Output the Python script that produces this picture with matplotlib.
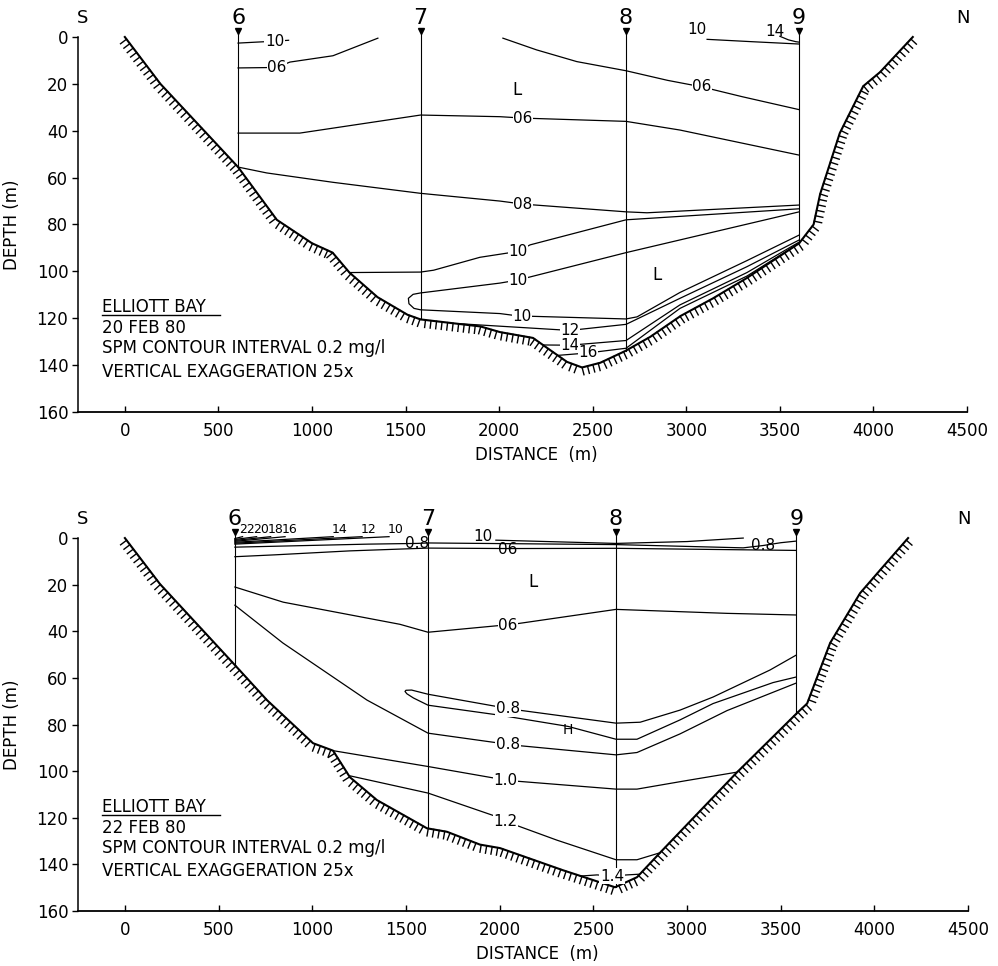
import numpy as np
import matplotlib
matplotlib.use("Agg")
import matplotlib.pyplot as plt
import matplotlib.patheffects as pe

plt.rcParams["font.family"] = ["DejaVu Sans"]

dist_ticks = [0, 500, 1000, 1500, 2000, 2500, 3000, 3500, 4000, 4500]
depth_ticks = [0, 20, 40, 60, 80, 100, 120, 140, 160]
station_names = ["6", "7", "8", "9"]

# ---------------- 20 FEB 80 ----------------
feb20_bed_x = [0, 190, 605, 812, 1000, 1110, 1200, 1350, 1510, 1580, 1900, 2004, 2181,
               2271, 2362, 2443, 2540, 2673, 2806, 2970, 3143, 3320, 3603, 3680, 3715,
               3820, 3945, 4035, 4210]
feb20_bed_z = [0, 20, 55.5, 78, 88, 92, 100.5, 111, 118.5, 120.5, 123.5, 125.9, 128.4,
               133.5, 138.6, 141, 139, 134, 128, 119, 111.5, 103, 88, 80, 67,
               41, 21, 15, 0]
feb20_stations = [605, 1580, 2678, 3603]

feb20_c10_s6_x = [605, 700, 800, 875]
feb20_c10_s6_z = [2.6, 2.2, 1.8, 1.4]
feb20_c06_s6_x = [605, 812, 882, 1112, 1352]
feb20_c06_s6_z = [13.2, 13.0, 10.7, 8.0, 0.5]
feb20_c06_n_x = [2020, 2200, 2415, 2678, 2900, 3084, 3300, 3603]
feb20_c06_n_z = [0.5, 5.5, 10.5, 14.4, 18.5, 21.3, 25.5, 31]
feb20_c06_mid_x = [605, 935, 1580, 2004, 2127, 2678, 2966, 3603]
feb20_c06_mid_z = [41, 41, 33.3, 34, 34.6, 36, 39.7, 50.4]
feb20_c08_x = [605, 758, 1112, 1580, 2004, 2127, 2678, 2790, 3603]
feb20_c08_z = [55.5, 58, 62, 66.7, 70, 71.3, 74.6, 75, 71.7]
feb20_c10_up_x = [1200, 1580, 1650, 1897, 2100, 2165, 2678, 3603]
feb20_c10_up_z = [100.5, 100.3, 99.5, 94, 91.5, 88.7, 78, 73.3]
feb20_c10_lens_x = [3603, 2678, 2100, 2004, 1580, 1540, 1515, 1518, 1545, 1580, 2004,
                    2100, 2678, 2737, 2966, 3324, 3603]
feb20_c10_lens_z = [74.6, 92, 103.7, 105, 109.2, 109.8, 111.5, 113.8, 115.8, 116.4, 118,
                    119, 120.3, 119.4, 109, 95.4, 84.5]
feb20_c12_x = [1780, 2378, 2678, 2966, 3324, 3603]
feb20_c12_z = [122.3, 125.2, 122.6, 111.5, 98, 86.6]
feb20_c14_x = [2234, 2378, 2678, 2966, 3324, 3603]
feb20_c14_z = [131.4, 131.5, 129.5, 114.3, 100.5, 87.5]
feb20_c16_x = [2320, 2475, 2678, 2966, 3324, 3603]
feb20_c16_z = [135.8, 134.8, 132.8, 115.8, 102, 88]
feb20_c10_n9_x = [3111, 3350, 3603]
feb20_c10_n9_z = [1.0, 2.0, 3.0]
feb20_c14_n9_x = [3500, 3545, 3585, 3603]
feb20_c14_n9_z = [-0.3, 1.2, 2.0, 2.2]

feb20_label_text = ["10", "06", "06", "06", "08", "10", "10", "10", "12", "14", "16", "10", "14"]
feb20_label_x = [800, 812, 3084, 2127, 2127, 2100, 2100, 2121, 2378, 2378, 2475, 3057, 3474]
feb20_label_z = [1.8, 13.0, 21.3, 34.6, 71.3, 91.5, 103.7, 119.2, 125.2, 131.5, 134.8, -3.0, -2.2]
feb20_mark_text = ["L", "L"]
feb20_mark_x = [2095, 2843]
feb20_mark_z = [22.6, 101.5]

# ---------------- 22 FEB 80 ----------------
feb22_bed_x = [0, 187, 577, 758, 1004, 1111, 1201, 1345, 1612, 1719, 1895, 2002, 2338,
               2616, 2733, 2856, 3268, 3588, 3641, 3764, 3924, 4031, 4180]
feb22_bed_z = [0, 19.7, 53.6, 69.5, 88, 91.2, 102.6, 112.4, 124.5, 126, 131.5, 133, 142.5,
               149.8, 145.5, 135, 100.4, 75, 71, 45, 23.6, 13.7, 0]
feb22_stations = [587, 1618, 2621, 3583]

feb22_s06_x = [587, 800, 1200, 1618, 2045, 2621, 3583]
feb22_s06_z = [8, 7.2, 5.5, 4.3, 4.5, 4.4, 5.3]
feb22_s08_x = [587, 1300, 1560, 1618, 2621, 3300, 3406, 3500, 3583]
feb22_s08_z = [3.9, 2.6, 2.3, 2.1, 2.8, 4.2, 3.2, 2.0, 1.3]
feb22_s10_x = [1980, 2300, 2621, 3000, 3300]
feb22_s10_z = [0.9, 1.6, 2.3, 1.5, 0.0]
# surface wedge at station 6: start depth at the station, end below each label
feb22_wedge_text = ["22", "20", "18", "16", "14", "12", "10"]
feb22_wedge_label_x = [652, 727, 802, 880, 1144, 1298, 1443]
feb22_wedge_z0 = [0.2, 0.6, 1.0, 1.4, 1.8, 2.2, 2.6]
feb22_wedge_x1 = [628, 703, 778, 855, 1112, 1266, 1410]
feb22_c06_x = [587, 845, 1468, 1618, 2002, 2045, 2621, 3214, 3583]
feb22_c06_z = [21, 27.5, 37, 40.4, 37.5, 37.3, 30.6, 32.3, 33]
feb22_c08_x = [587, 843, 1292, 1618, 2002, 2045, 2621, 2733, 2963, 3214, 3583]
feb22_c08_z = [28.8, 45, 69.5, 83.7, 88, 88.6, 93, 92, 84, 74, 62.2]
feb22_lens_x = [3583, 3443, 3139, 2963, 2750, 2621, 2045, 2002, 1618, 1530, 1500, 1495,
                1505, 1540, 1618, 2002, 2365, 2621, 2733, 2963, 3139, 3459, 3583]
feb22_lens_z = [50.2, 56.6, 68.2, 73.8, 79, 79.4, 73.2, 72.5, 67, 65.2, 65.3, 65.8,
                66.8, 68.6, 71.7, 76, 80.8, 86.3, 86.3, 78, 71, 62, 59.6]
feb22_c10_x = [1111, 1618, 2002, 2030, 2621, 2733, 3000, 3268]
feb22_c10_z = [91.2, 98, 103.4, 103.9, 107.7, 107.7, 104, 100.4]
feb22_c12_x = [1201, 1618, 2002, 2030, 2306, 2621, 2733, 2856]
feb22_c12_z = [102, 109.4, 120, 121.5, 129.6, 138, 138, 135]
feb22_c14_x = [2430, 2520, 2600, 2680, 2745]
feb22_c14_z = [145, 144.5, 145, 144.5, 144.2]

feb22_label_text = ["0.8", "10", "06", "0.8", "06", "0.8", "0.8", "1.0", "1.2", "1.4"]
feb22_label_x = [1560, 1911, 2045, 3406, 2045, 2045, 2045, 2030, 2030, 2600]
feb22_label_z = [2.3, -0.8, 5.0, 3.2, 37.3, 73.2, 88.6, 103.9, 121.5, 145]
feb22_mark_text = ["L", "H"]
feb22_mark_x = [2178, 2365]
feb22_mark_z = [19, 82.5]


def draw_section(ax, bed_x, bed_z, stations, lines, lab_text, lab_x, lab_z,
                 mark_text, mark_x, mark_z, date, box_below):
    ax.set_xlim(-250, 4500)
    ax.set_ylim(160, 0)
    for side in ["top", "right"]:
        ax.spines[side].set_visible(False)
    ax.spines["left"].set_linewidth(1.1)
    ax.spines["bottom"].set_linewidth(1.3)
    ax.set_xticks(dist_ticks)
    ax.set_yticks(depth_ticks)
    ax.tick_params(axis="x", direction="in", length=4, width=1, pad=7, labelsize=12)
    ax.tick_params(axis="y", direction="out", length=4, width=1, pad=3, labelsize=12)
    ax.set_xlabel("DISTANCE  (m)", fontsize=12, va="center")
    ax.xaxis.set_label_coords(0.516, -0.115)
    ax.set_ylabel("DEPTH (m)", fontsize=12, va="center")
    ax.yaxis.set_label_coords(-0.074, 0.5)

    # sea floor, hatched on the ground side
    ax.plot(bed_x, bed_z, color="black", lw=1.5, zorder=3, clip_on=False)
    ax.plot(bed_x, bed_z, color="black", lw=1.0, zorder=3, clip_on=False,
            path_effects=[pe.TickedStroke(angle=-90, spacing=4.0, length=1.35)])

    # station casts
    st_bottom = np.interp(stations, bed_x, bed_z)
    for sx, sb, name in zip(stations, st_bottom, station_names):
        ax.plot([sx, sx], [-1.2, sb], color="black", lw=0.8, zorder=1.5, clip_on=False)
        ax.plot(sx, -2.4, marker="v", ms=4.5, color="black", clip_on=False)
        ax.text(sx, -8, name, fontsize=16, ha="center", va="center")
    ax.text(-225, -8, "S", fontsize=13, ha="center", va="center")
    ax.text(4480, -8, "N", fontsize=13, ha="center", va="center")

    # SPM contours
    for lx, lz in lines:
        ax.plot(lx, lz, color="black", lw=0.9, zorder=2, clip_on=False)
    for t, x, z in zip(lab_text, lab_x, lab_z):
        kw = {}
        if z > box_below:
            kw["bbox"] = dict(facecolor="white", edgecolor="none", pad=0.4)
        ax.text(x, z, t, fontsize=11, ha="center", va="center", zorder=4, **kw)
    for t, x, z in zip(mark_text, mark_x, mark_z):
        ax.text(x, z, t, fontsize=12 if t == "L" else 10, ha="center", va="center", zorder=4)

    # title block
    ax.text(-120, 115.2, "ELLIOTT BAY", fontsize=12, ha="left", va="center")
    ax.plot([-120, 508], [118.8, 118.8], color="black", lw=1)
    ax.text(-120, 124.2, date, fontsize=12, ha="left", va="center")
    ax.text(-120, 132.8, "SPM CONTOUR INTERVAL 0.2 mg/l", fontsize=12, ha="left", va="center")
    ax.text(-120, 142.8, "VERTICAL EXAGGERATION 25x", fontsize=12, ha="left", va="center")


fig = plt.figure(figsize=(9.98, 9.66), dpi=100)
ax1 = fig.add_axes([0.0782, 0.5735, 0.8908, 0.3882])
ax2 = fig.add_axes([0.0782, 0.0569, 0.8918, 0.3861])

feb20_lines = [
    (feb20_c10_s6_x, feb20_c10_s6_z), (feb20_c06_s6_x, feb20_c06_s6_z),
    (feb20_c06_n_x, feb20_c06_n_z), (feb20_c06_mid_x, feb20_c06_mid_z),
    (feb20_c08_x, feb20_c08_z), (feb20_c10_up_x, feb20_c10_up_z),
    (feb20_c10_lens_x, feb20_c10_lens_z), (feb20_c12_x, feb20_c12_z),
    (feb20_c14_x, feb20_c14_z), (feb20_c16_x, feb20_c16_z),
    (feb20_c10_n9_x, feb20_c10_n9_z), (feb20_c14_n9_x, feb20_c14_n9_z),
]
draw_section(ax1, feb20_bed_x, feb20_bed_z, feb20_stations, feb20_lines,
             feb20_label_text, feb20_label_x, feb20_label_z,
             feb20_mark_text, feb20_mark_x, feb20_mark_z, "20 FEB 80", box_below=-1)

feb22_lines = [
    (feb22_s06_x, feb22_s06_z), (feb22_s08_x, feb22_s08_z), (feb22_s10_x, feb22_s10_z),
    (feb22_c06_x, feb22_c06_z), (feb22_c08_x, feb22_c08_z), (feb22_lens_x, feb22_lens_z),
    (feb22_c10_x, feb22_c10_z), (feb22_c12_x, feb22_c12_z), (feb22_c14_x, feb22_c14_z),
]
for z0, x1 in zip(feb22_wedge_z0, feb22_wedge_x1):
    feb22_lines.append(([feb22_stations[0], x1], [z0, -0.6]))
draw_section(ax2, feb22_bed_x, feb22_bed_z, feb22_stations, feb22_lines,
             feb22_label_text, feb22_label_x, feb22_label_z,
             feb22_mark_text, feb22_mark_x, feb22_mark_z, "22 FEB 80", box_below=6)
for t, x in zip(feb22_wedge_text, feb22_wedge_label_x):
    ax2.text(x, -3.8, t, fontsize=9, ha="center", va="center")

fig.savefig("out.png", dpi=100)
